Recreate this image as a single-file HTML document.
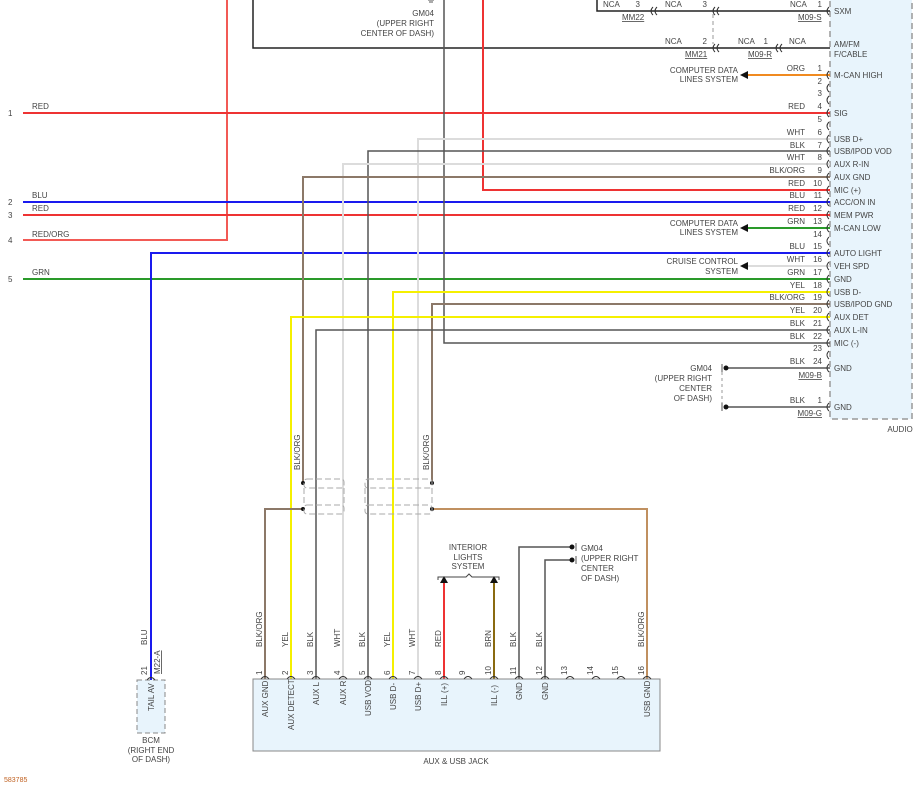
<!DOCTYPE html>
<html><head><meta charset="utf-8"><style>
html,body{margin:0;padding:0;background:#fff;width:921px;height:789px;overflow:hidden}
svg{display:block}
text{font-family:"Liberation Sans",sans-serif;font-size:8px;fill:#444}
</style></head><body>
<svg width="921" height="789" viewBox="0 0 921 789" xmlns="http://www.w3.org/2000/svg">
<!-- AUDIO box -->
<rect x="830" y="-5" width="82" height="424" fill="#e8f4fc" stroke="#999" stroke-width="1.5" stroke-dasharray="6,4"/>
<text x="900" y="432" text-anchor="middle">AUDIO</text>

<!-- top black rectangle -->
<path d="M253,0 V48 H830" fill="none" stroke="#222" stroke-width="1.5"/>
<path d="M597,0 V11 H830" fill="none" stroke="#222" stroke-width="1.5"/>
<line x1="713" y1="14" x2="713" y2="44" stroke="#999" stroke-dasharray="4,3"/>
<text x="603" y="7">NCA</text><text x="640" y="7" text-anchor="end">3</text>
<text x="665" y="7">NCA</text><text x="707" y="7" text-anchor="end">3</text>
<text x="790" y="7">NCA</text><text x="822" y="7" text-anchor="end">1</text>
<text x="622" y="20" text-decoration="underline">MM22</text>
<text x="798" y="20" text-decoration="underline">M09-S</text>
<text x="665" y="44">NCA</text><text x="707" y="44" text-anchor="end">2</text>
<text x="738" y="44">NCA</text><text x="768" y="44" text-anchor="end">1</text>
<text x="789" y="44">NCA</text>
<text x="685" y="57" text-decoration="underline">MM21</text>
<text x="748" y="57" text-decoration="underline">M09-R</text>
<g fill="none" stroke="#333" stroke-width="1">
<path d="M653,7 q-4,4 0,8 M657,7 q-4,4 0,8"/>
<path d="M715,7 q-4,4 0,8 M719,7 q-4,4 0,8"/>
<path d="M715,44 q-4,4 0,8 M719,44 q-4,4 0,8"/>
<path d="M778,44 q-4,4 0,8 M782,44 q-4,4 0,8"/>
<path d="M829,7 q-4,4 0,8"/>
</g>
<text x="834" y="14">SXM</text>
<text x="834" y="47">AM/FM</text>
<text x="834" y="57">F/CABLE</text>

<!-- GM04 top text -->
<text x="434" y="16" text-anchor="end">GM04</text>
<text x="434" y="26" text-anchor="end">(UPPER RIGHT</text>
<text x="434" y="36" text-anchor="end">CENTER OF DASH)</text>
<path d="M428,0 h6 M429,2 h4" stroke="#555"/>

<!-- left feed lines -->
<g stroke-width="2" fill="none">
<path d="M227,0 V240 H23" stroke="#f25a55"/>
<line x1="23" y1="113" x2="830" y2="113" stroke="#ee3333"/>
<line x1="23" y1="202" x2="830" y2="202" stroke="#1a1aee"/>
<line x1="23" y1="215" x2="830" y2="215" stroke="#ee3333"/>
<line x1="23" y1="279" x2="830" y2="279" stroke="#2a9a2a"/>
<path d="M151,680 V253 H830" stroke="#1a1aee"/>
<path d="M483,0 V190 H830" stroke="#ee3333"/>
<path d="M444,0 V343 H830" stroke="#555" stroke-width="1.5"/>
<path d="M418,679 V139 H830" stroke="#dcdcdc"/>
<path d="M368,679 V151 H830" stroke="#555" stroke-width="1.5"/>
<path d="M343,679 V164 H830" stroke="#dcdcdc"/>
<path d="M303,483 V177 H830" stroke="#8c7868"/>
<path d="M393,679 V292 H830" stroke="#f5f000"/>
<path d="M432,483 V304 H830" stroke="#8c7868"/>
<path d="M291,679 V317 H830" stroke="#f5f000"/>
<path d="M316,679 V330 H830" stroke="#555" stroke-width="1.5"/>
<line x1="745" y1="75" x2="830" y2="75" stroke="#f08a20"/>
<line x1="745" y1="228" x2="830" y2="228" stroke="#2a9a2a"/>
<line x1="745" y1="266" x2="830" y2="266" stroke="#dcdcdc"/>
<line x1="728" y1="368" x2="830" y2="368" stroke="#555" stroke-width="1.5"/>
<line x1="728" y1="407" x2="830" y2="407" stroke="#555" stroke-width="1.5"/>
<path d="M303,509 H265 V679" stroke="#8c7868"/>
<path d="M432,509 H647 V679" stroke="#c09060"/>
<path d="M444,583 V679" stroke="#ee3333"/>
<path d="M494,583 V679" stroke="#8a6a10"/>
<path d="M570,547 H519 V679" stroke="#555" stroke-width="1.5"/>
<path d="M570,560 H545 V679" stroke="#555" stroke-width="1.5"/>
</g>
<!-- arrows -->
<g fill="#111">
<polygon points="740,75 748,71 748,79"/>
<polygon points="740,228 748,224 748,232"/>
<polygon points="740,266 748,262 748,270"/>
<polygon points="444,576 440,583 448,583"/>
<polygon points="494,576 490,583 498,583"/>
<circle cx="303" cy="483" r="2"/><circle cx="303" cy="509" r="2"/>
<circle cx="432" cy="483" r="2"/><circle cx="432" cy="509" r="2"/>
<circle cx="726" cy="368" r="2.5"/><circle cx="726" cy="407" r="2.5"/>
<circle cx="572" cy="547" r="2.5"/><circle cx="572" cy="560" r="2.5"/>
</g>
<line x1="722" y1="372" x2="722" y2="403" stroke="#999" stroke-dasharray="3,3"/>
<path d="M722,364 v8 M722,403 v8 M576,543 v8 M576,556 v8" stroke="#555"/>
<text x="712" y="371" text-anchor="end">GM04</text>
<text x="712" y="381" text-anchor="end">(UPPER RIGHT</text>
<text x="712" y="391" text-anchor="end">CENTER</text>
<text x="712" y="401" text-anchor="end">OF DASH)</text>
<text x="822" y="378" text-anchor="end" text-decoration="underline">M09-B</text>
<text x="822" y="416" text-anchor="end" text-decoration="underline">M09-G</text>

<!-- left labels -->
<text x="8" y="116">1</text><text x="32" y="109">RED</text>
<text x="8" y="205">2</text><text x="32" y="198">BLU</text>
<text x="8" y="218">3</text><text x="32" y="211">RED</text>
<text x="8" y="243">4</text><text x="32" y="237">RED/ORG</text>
<text x="8" y="282">5</text><text x="32" y="275">GRN</text>

<!-- system labels -->
<text x="738" y="73" text-anchor="end">COMPUTER DATA</text>
<text x="738" y="82" text-anchor="end">LINES SYSTEM</text>
<text x="738" y="226" text-anchor="end">COMPUTER DATA</text>
<text x="738" y="235" text-anchor="end">LINES SYSTEM</text>
<text x="738" y="264" text-anchor="end">CRUISE CONTROL</text>
<text x="738" y="274" text-anchor="end">SYSTEM</text>

<!-- pin rows -->
<g fill="none" stroke="#333">
<path d="M829,71 q-4,4 0,8 M829,84 q-4,4 0,8 M829,96 q-4,4 0,8 M829,109 q-4,4 0,8 M829,122 q-4,4 0,8 M829,135 q-4,4 0,8 M829,147 q-4,4 0,8 M829,160 q-4,4 0,8 M829,173 q-4,4 0,8 M829,186 q-4,4 0,8 M829,198 q-4,4 0,8 M829,211 q-4,4 0,8 M829,224 q-4,4 0,8 M829,237 q-4,4 0,8 M829,249 q-4,4 0,8 M829,262 q-4,4 0,8 M829,275 q-4,4 0,8 M829,288 q-4,4 0,8 M829,300 q-4,4 0,8 M829,313 q-4,4 0,8 M829,326 q-4,4 0,8 M829,339 q-4,4 0,8 M829,351 q-4,4 0,8 M829,364 q-4,4 0,8 M829,403 q-4,4 0,8"/>
</g>
<g text-anchor="end">
<text x="822" y="71">1</text><text x="805" y="71">ORG</text>
<text x="822" y="84">2</text>
<text x="822" y="96">3</text>
<text x="822" y="109">4</text><text x="805" y="109">RED</text>
<text x="822" y="122">5</text>
<text x="822" y="135">6</text><text x="805" y="135">WHT</text>
<text x="822" y="148">7</text><text x="805" y="148">BLK</text>
<text x="822" y="160">8</text><text x="805" y="160">WHT</text>
<text x="822" y="173">9</text><text x="805" y="173">BLK/ORG</text>
<text x="822" y="186">10</text><text x="805" y="186">RED</text>
<text x="822" y="198">11</text><text x="805" y="198">BLU</text>
<text x="822" y="211">12</text><text x="805" y="211">RED</text>
<text x="822" y="224">13</text><text x="805" y="224">GRN</text>
<text x="822" y="237">14</text>
<text x="822" y="249">15</text><text x="805" y="249">BLU</text>
<text x="822" y="262">16</text><text x="805" y="262">WHT</text>
<text x="822" y="275">17</text><text x="805" y="275">GRN</text>
<text x="822" y="288">18</text><text x="805" y="288">YEL</text>
<text x="822" y="300">19</text><text x="805" y="300">BLK/ORG</text>
<text x="822" y="313">20</text><text x="805" y="313">YEL</text>
<text x="822" y="326">21</text><text x="805" y="326">BLK</text>
<text x="822" y="339">22</text><text x="805" y="339">BLK</text>
<text x="822" y="351">23</text>
<text x="822" y="364">24</text><text x="805" y="364">BLK</text>
<text x="822" y="403">1</text><text x="805" y="403">BLK</text>
</g>
<g>
<text x="834" y="78">M-CAN HIGH</text>
<text x="834" y="116">SIG</text>
<text x="834" y="142">USB D+</text>
<text x="834" y="154">USB/IPOD VOD</text>
<text x="834" y="167">AUX R-IN</text>
<text x="834" y="180">AUX GND</text>
<text x="834" y="193">MIC (+)</text>
<text x="834" y="205">ACC/ON IN</text>
<text x="834" y="218">MEM PWR</text>
<text x="834" y="231">M-CAN LOW</text>
<text x="834" y="256">AUTO LIGHT</text>
<text x="834" y="269">VEH SPD</text>
<text x="834" y="282">GND</text>
<text x="834" y="295">USB D-</text>
<text x="834" y="307">USB/IPOD GND</text>
<text x="834" y="320">AUX DET</text>
<text x="834" y="333">AUX L-IN</text>
<text x="834" y="346">MIC (-)</text>
<text x="834" y="371">GND</text>
<text x="834" y="410">GND</text>
</g>

<!-- shield boxes -->
<g fill="none" stroke="#aaa" stroke-dasharray="6,3" stroke-width="1">
<rect x="304" y="479" width="40" height="9" rx="3"/>
<rect x="304" y="505" width="40" height="9" rx="3"/>
<rect x="365" y="479" width="67" height="9" rx="3"/>
<rect x="365" y="505" width="67" height="9" rx="3"/>
<line x1="304" y1="488" x2="304" y2="505"/><line x1="344" y1="488" x2="344" y2="505"/>
<line x1="365" y1="488" x2="365" y2="505"/><line x1="432" y1="488" x2="432" y2="505"/>
</g>
<text transform="translate(300,470) rotate(-90)">BLK/ORG</text>
<text transform="translate(429,470) rotate(-90)">BLK/ORG</text>

<!-- interior lights -->
<text x="468" y="550" text-anchor="middle">INTERIOR</text>
<text x="468" y="560" text-anchor="middle">LIGHTS</text>
<text x="468" y="569" text-anchor="middle">SYSTEM</text>
<path d="M438,580 v-3 h28 l3,-3 l3,3 h27 v3" fill="none" stroke="#444"/>
<text x="581" y="551">GM04</text>
<text x="581" y="561">(UPPER RIGHT</text>
<text x="581" y="571">CENTER</text>
<text x="581" y="581">OF DASH)</text>

<!-- jack -->
<rect x="253" y="679" width="407" height="72" fill="#e8f4fc" stroke="#888" stroke-width="1"/>
<text x="456" y="764" text-anchor="middle">AUX &amp; USB JACK</text>
<g fill="none" stroke="#333">
<path d="M261,679 q4,-5 8,0 M287,679 q4,-5 8,0 M312,679 q4,-5 8,0 M339,679 q4,-5 8,0 M364,679 q4,-5 8,0 M389,679 q4,-5 8,0 M414,679 q4,-5 8,0 M440,679 q4,-5 8,0 M464,679 q4,-5 8,0 M490,679 q4,-5 8,0 M515,679 q4,-5 8,0 M541,679 q4,-5 8,0 M566,679 q4,-5 8,0 M592,679 q4,-5 8,0 M617,679 q4,-5 8,0 M643,679 q4,-5 8,0"/>
</g>
<g>
<text transform="translate(262,675) rotate(-90)">1</text>
<text transform="translate(288,675) rotate(-90)">2</text>
<text transform="translate(313,675) rotate(-90)">3</text>
<text transform="translate(340,675) rotate(-90)">4</text>
<text transform="translate(365,675) rotate(-90)">5</text>
<text transform="translate(390,675) rotate(-90)">6</text>
<text transform="translate(415,675) rotate(-90)">7</text>
<text transform="translate(441,675) rotate(-90)">8</text>
<text transform="translate(465,675) rotate(-90)">9</text>
<text transform="translate(491,675) rotate(-90)">10</text>
<text transform="translate(516,675) rotate(-90)">11</text>
<text transform="translate(542,675) rotate(-90)">12</text>
<text transform="translate(567,675) rotate(-90)">13</text>
<text transform="translate(593,675) rotate(-90)">14</text>
<text transform="translate(618,675) rotate(-90)">15</text>
<text transform="translate(644,675) rotate(-90)">16</text>

<text transform="translate(262,647) rotate(-90)">BLK/ORG</text>
<text transform="translate(288,647) rotate(-90)">YEL</text>
<text transform="translate(313,647) rotate(-90)">BLK</text>
<text transform="translate(340,647) rotate(-90)">WHT</text>
<text transform="translate(365,647) rotate(-90)">BLK</text>
<text transform="translate(390,647) rotate(-90)">YEL</text>
<text transform="translate(415,647) rotate(-90)">WHT</text>
<text transform="translate(441,647) rotate(-90)">RED</text>
<text transform="translate(491,647) rotate(-90)">BRN</text>
<text transform="translate(516,647) rotate(-90)">BLK</text>
<text transform="translate(542,647) rotate(-90)">BLK</text>
<text transform="translate(644,647) rotate(-90)">BLK/ORG</text>

<text transform="translate(268,717) rotate(-90)">AUX GND</text>
<text transform="translate(294,730) rotate(-90)">AUX DETECT</text>
<text transform="translate(319,705) rotate(-90)">AUX L</text>
<text transform="translate(346,705) rotate(-90)">AUX R</text>
<text transform="translate(371,716) rotate(-90)">USB VOD</text>
<text transform="translate(396,710) rotate(-90)">USB D-</text>
<text transform="translate(421,711) rotate(-90)">USB D+</text>
<text transform="translate(447,706) rotate(-90)">ILL (+)</text>
<text transform="translate(497,706) rotate(-90)">ILL (-)</text>
<text transform="translate(522,700) rotate(-90)">GND</text>
<text transform="translate(548,700) rotate(-90)">GND</text>
<text transform="translate(650,717) rotate(-90)">USB GND</text>
</g>

<!-- BCM -->
<rect x="137" y="680" width="28" height="53" fill="#e8f4fc" stroke="#888" stroke-dasharray="5,3"/>
<path d="M147,680 q4,-5 8,0" fill="none" stroke="#333"/>
<text transform="translate(154,711) rotate(-90)">TAIL AV</text>
<text transform="translate(147,645) rotate(-90)">BLU</text>
<text transform="translate(147,675) rotate(-90)">21</text>
<text transform="translate(160,674) rotate(-90)" text-decoration="underline">M22-A</text>
<text x="151" y="743" text-anchor="middle">BCM</text>
<text x="151" y="753" text-anchor="middle">(RIGHT END</text>
<text x="151" y="762" text-anchor="middle">OF DASH)</text>

<text x="4" y="782" style="font-size:7px;fill:#c06020">583785</text>
</svg>
</body></html>
